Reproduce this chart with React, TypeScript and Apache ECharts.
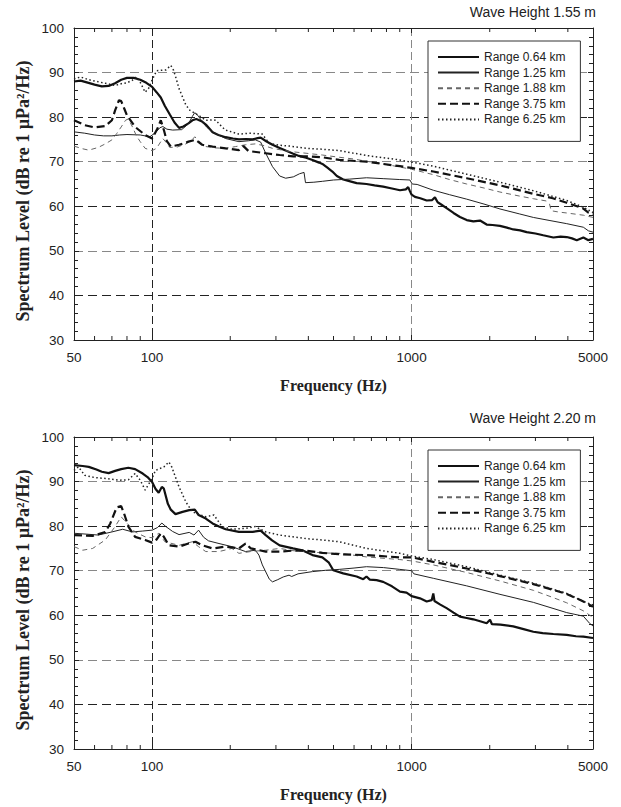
import React, { useEffect, useRef } from 'react';
import * as echarts from 'echarts';

// ---------- data ----------
const seriesNames = ['Range 0.64 km', 'Range 1.25 km', 'Range 1.88 km', 'Range 3.75 km', 'Range 6.25 km'];
const titles = ['Wave Height 1.55 m', 'Wave Height 2.20 m'];
const xAxisName = 'Frequency (Hz)';
const yAxisName = 'Spectrum Level (dB re 1 \u00b5Pa\u00b2/Hz)';
const freqMin = 50;
const freqMax = 5000;
const levelMin = 30;
const levelMax = 100;
const levelStep = 10;
const minorFreqs = [60, 70, 80, 90, 200, 300, 400, 500, 600, 700, 800, 900, 2000, 3000, 4000];

// Wave height 1.55 m
const top064 = [[50,88.0],[53,88.2],[56,87.8],[60,87.3],[64,86.9],[68,87.0],[72,87.6],[76,88.4],[80,88.8],[85,88.8],[90,88.4],[95,87.7],[100,86.8],[104,85.6],[108,84.4],[112,82.5],[117,80.6],[122,78.8],[127,77.6],[132,77.9],[138,78.6],[143,79.3],[148,79.6],[155,79.1],[162,78.2],[171,76.6],[180,76.0],[192,75.5],[205,75.2],[216,75.0],[230,75.1],[244,75.0],[255,75.3],[262,75.4],[275,74.6],[291,73.8],[310,73.1],[327,72.5],[350,71.8],[368,71.3],[392,70.9],[415,70.4],[440,69.8],[453,69.5],[475,68.6],[495,67.8],[515,66.8],[545,66.0],[580,65.6],[614,65.2],[670,65.0],[720,64.7],[777,64.4],[840,64.0],[902,63.6],[950,63.8],[970,64.3],[985,63.4],[1000,62.6],[1030,62.1],[1080,61.8],[1143,61.3],[1200,61.4],[1230,62.0],[1260,60.9],[1300,60.4],[1364,59.6],[1450,58.5],[1536,57.6],[1630,56.9],[1730,56.6],[1835,56.8],[1946,55.9],[2050,55.8],[2190,55.6],[2330,55.2],[2464,54.8],[2620,54.6],[2775,54.2],[3000,53.9],[3215,53.5],[3517,53.0],[3750,53.2],[3960,53.1],[4150,52.8],[4330,52.4],[4590,53.0],[4800,52.4],[5000,52.7]];
const top125 = [[50,76.7],[55,76.4],[60,76.0],[65,75.8],[70,75.8],[75,76.0],[80,76.1],[90,76.0],[98,75.6],[103,76.5],[107,77.6],[110,77.9],[114,77.3],[120,77.1],[130,77.2],[138,78.5],[143,80.2],[146,81.0],[150,80.4],[156,79.0],[162,77.8],[170,76.8],[180,76.0],[192,75.2],[216,74.5],[235,74.7],[250,74.9],[262,74.4],[274,71.9],[291,68.9],[310,66.8],[327,66.3],[350,66.6],[370,67.3],[385,67.6],[390,65.3],[420,65.4],[453,65.6],[500,65.9],[578,66.1],[670,66.4],[777,66.2],[900,66.0],[985,65.9],[1005,65.0],[1050,64.9],[1212,63.6],[1400,62.6],[1630,61.6],[1900,60.5],[2190,59.4],[2600,58.3],[2945,57.5],[3413,56.8],[3960,56.1],[4590,55.3],[4800,54.5],[5000,54.2]];
const top188 = [[50,73.5],[54,72.9],[57,72.6],[62,73.2],[66,74.0],[70,74.9],[73,76.3],[76,77.8],[79,79.3],[81,79.6],[84,77.8],[87,75.8],[90,74.5],[94,73.0],[100,72.5],[104,73.0],[108,74.5],[110,75.2],[113,74.4],[117,73.2],[125,73.3],[135,74.0],[142,74.8],[146,75.6],[150,74.9],[156,74.0],[161,73.4],[175,73.1],[192,73.0],[210,73.4],[229,73.8],[250,74.0],[270,73.6],[291,73.0],[339,72.3],[392,71.9],[453,71.5],[526,71.0],[600,70.6],[670,70.1],[780,69.5],[900,68.8],[1000,68.3],[1212,67.1],[1400,66.0],[1630,65.0],[1900,64.1],[2190,63.2],[2600,62.3],[2945,61.7],[3300,61.2],[3400,60.5],[3450,59.0],[3700,58.7],[3960,58.5],[4590,58.0],[5000,57.5]];
const top375 = [[50,79.3],[55,78.2],[60,77.7],[66,78.0],[70,79.3],[72,81.5],[74.5,83.8],[76,83.6],[78,82.0],[80,80.4],[86,77.8],[94,76.0],[100,75.2],[105,77.5],[108,79.3],[111,77.1],[114,74.6],[118,73.4],[127,73.8],[138,74.5],[147,74.9],[156,73.8],[171,73.4],[192,73.0],[216,72.6],[225,73.5],[235,72.4],[274,71.9],[310,71.5],[350,71.2],[392,71.2],[453,71.0],[526,70.4],[670,70.0],[900,69.0],[1000,68.6],[1212,67.8],[1630,66.3],[2190,64.7],[2945,62.8],[3500,61.8],[3960,60.8],[4590,59.5],[4800,58.6],[5000,58.3]];
const top625 = [[50,88.6],[53,89.0],[57,88.4],[60,88.1],[66,87.6],[72,87.1],[76,87.5],[80,87.7],[84,88.3],[87,89.0],[90,87.8],[94,85.6],[97,86.5],[100,88.3],[104,90.4],[108,90.5],[113,90.6],[118,91.6],[121,90.5],[124,88.5],[127,86.4],[131,84.5],[135,82.7],[140,81.5],[151,80.4],[161,79.3],[172,79.4],[176,79.3],[186,77.8],[192,77.1],[216,76.2],[240,76.4],[266,76.2],[275,75.0],[283,74.1],[310,73.7],[339,73.5],[392,73.0],[453,72.8],[526,72.5],[670,71.4],[900,70.4],[1000,69.9],[1212,69.0],[1630,67.2],[2190,65.4],[2945,63.5],[3960,61.3],[4590,59.8],[5000,58.6]];

// Wave height 2.20 m
const bot064 = [[50,93.7],[54,93.5],[57,93.3],[61,92.7],[64,92.2],[68,91.9],[72,92.4],[76,92.8],[81,93.1],[86,92.8],[92,91.8],[96,91.0],[100,89.9],[103,88.4],[106,87.5],[109,88.8],[111,88.4],[115,85.0],[118,83.7],[123,82.7],[131,83.2],[139,83.6],[146,83.7],[151,82.5],[161,81.7],[171,80.6],[181,79.9],[192,79.3],[216,78.7],[244,78.7],[262,79.0],[274,78.0],[290,76.8],[310,75.7],[349,75.0],[379,74.6],[415,73.5],[453,73.0],[480,71.8],[499,70.1],[545,69.4],[614,68.7],[651,68.1],[670,68.7],[690,68.0],[733,67.9],[777,67.5],[840,66.5],[902,65.3],[956,65.1],[1000,64.3],[1077,63.8],[1143,63.1],[1195,63.4],[1212,64.9],[1225,63.2],[1290,62.4],[1364,61.6],[1450,60.6],[1536,59.7],[1630,59.4],[1728,59.1],[1850,58.6],[1946,58.2],[2005,59.0],[2040,58.0],[2200,57.9],[2464,57.5],[2700,56.9],[2945,56.3],[3200,56.0],[3517,55.8],[3960,55.6],[4300,55.3],[4590,55.2],[5000,54.9]];
const bot125 = [[50,78.4],[56,78.2],[62,78.0],[70,78.7],[77,79.3],[84,78.7],[92,78.9],[100,79.1],[105,79.7],[109,80.7],[113,79.9],[120,78.8],[127,78.1],[139,78.6],[145,78.0],[151,79.1],[158,77.5],[165,76.7],[181,76.1],[203,75.4],[229,74.3],[250,74.6],[258,73.5],[266,71.3],[283,68.1],[291,67.5],[305,68.0],[320,68.6],[337,69.0],[345,68.7],[365,69.3],[415,69.8],[467,70.1],[526,70.3],[600,70.6],[670,70.9],[780,70.7],[900,70.3],[1000,70.0],[1020,69.3],[1212,68.3],[1630,66.6],[2190,64.7],[2945,62.9],[3960,60.6],[4590,59.8],[4850,58.2],[5000,57.6]];
const bot188 = [[50,75.4],[54,74.6],[59,75.0],[66,76.9],[72,79.9],[76,82.1],[79,81.0],[86,78.7],[94,77.6],[100,77.4],[106,78.4],[112,76.5],[127,75.7],[143,76.5],[151,75.4],[161,74.3],[181,74.3],[203,75.0],[216,73.9],[240,74.3],[274,74.6],[310,75.0],[349,74.5],[392,74.3],[453,74.0],[526,73.9],[670,73.1],[900,72.5],[1000,72.2],[1212,71.3],[1630,69.6],[2190,67.7],[2945,65.6],[3500,64.0],[3960,62.8],[4590,61.0],[5000,59.5]];
const bot375 = [[50,78.0],[59,77.8],[66,78.7],[69,80.6],[73,84.2],[76,84.5],[78,82.8],[81,79.9],[86,77.6],[94,76.9],[100,76.3],[104,77.0],[108,78.4],[111,77.6],[116,75.7],[127,75.4],[138,76.1],[147,76.5],[156,75.7],[171,75.0],[192,75.4],[216,75.0],[229,76.1],[240,75.0],[274,74.3],[310,74.3],[349,74.5],[392,74.5],[453,74.0],[526,73.7],[670,73.5],[900,73.0],[1000,73.0],[1212,72.0],[1630,70.5],[2190,68.8],[2945,67.0],[3960,64.8],[4590,63.1],[5000,61.9]];
const bot625 = [[50,92.5],[52,93.3],[55,91.4],[60,90.9],[66,90.7],[74.5,90.3],[81,90.4],[86,91.8],[90,90.3],[94,88.1],[100,90.7],[103,92.5],[111,93.3],[116,94.4],[119,93.3],[127,88.8],[135,85.4],[143,83.2],[161,82.1],[173,82.5],[186,79.9],[203,79.3],[229,79.5],[250,79.9],[274,78.7],[310,78.0],[349,77.6],[392,77.2],[453,76.9],[526,76.5],[670,75.0],[900,73.9],[1000,73.3],[1212,72.5],[1630,70.9],[2190,69.0],[2945,67.2],[3960,64.9],[4590,63.1],[5000,62.3]];

const panels = [
  [top064, top125, top188, top375, top625],
  [bot064, bot125, bot188, bot375, bot625],
];

// ---------- styles ----------
const lineStyles: any[] = [
  { width: 2.2, type: 'solid', color: '#111' },
  { width: 1, type: 'solid', color: '#222' },
  { width: 1, type: [5, 4], color: '#666' },
  { width: 2.2, type: [8, 4], color: '#111' },
  { width: 1.5, type: [1.5, 2.5], color: '#222' },
];
const gridTops = [28, 437];
const gridHeight = 312;
const sansFont = '"Liberation Sans", Arial, sans-serif';
const serifFont = '"Liberation Serif", "Times New Roman", serif';

export default function App() {
  const ref = useRef<HTMLDivElement>(null);

  useEffect(() => {
    if (!ref.current) return;
    const chart = echarts.init(ref.current, null, { renderer: 'svg' });

    const grids: any[] = [];
    const xAxes: any[] = [];
    const yAxes: any[] = [];
    const series: any[] = [];
    const legends: any[] = [];
    const titleList: any[] = [];
    const graphics: any[] = [];

    panels.forEach((panel, p) => {
      grids.push({ left: 74, right: 28, top: gridTops[p], height: gridHeight, containLabel: false });
      xAxes.push({
        type: 'log', gridIndex: p, position: 'bottom', min: freqMin, max: freqMax, logBase: 10,
        name: xAxisName, nameLocation: 'middle', nameGap: 37,
        nameTextStyle: { fontFamily: serifFont, fontWeight: 'bold', fontSize: 16, color: '#222' },
        axisLine: { show: true, onZero: false, lineStyle: { color: '#222', width: 1 } },
        axisTick: { show: true, inside: true, length: 5, lineStyle: { color: '#222' } },
        axisLabel: { show: true, margin: 10, fontFamily: sansFont, fontSize: 13.5, color: '#222',
          formatter: (v: number) => String(Math.round(v)) },
        splitLine: { show: true, lineStyle: { color: ['#222', '#222', '#888', '#222'], type: [8, 4], width: 1 } },
      });
      xAxes.push({
        type: 'log', gridIndex: p, position: 'top', min: freqMin, max: freqMax, logBase: 10,
        axisLine: { show: true, onZero: false, lineStyle: { color: '#222', width: 1 } },
        axisTick: { show: true, inside: true, length: 5, lineStyle: { color: '#222' } },
        axisLabel: { show: false },
        splitLine: { show: false },
      });
      yAxes.push({
        type: 'value', gridIndex: p, position: 'left', min: levelMin, max: levelMax, interval: levelStep,
        axisLine: { show: true, onZero: false, lineStyle: { color: '#222', width: 1 } },
        axisTick: { show: true, inside: true, length: 5, lineStyle: { color: '#222' } },
        minorTick: { show: true, splitNumber: 5, length: 4, lineStyle: { color: '#222' } },
        axisLabel: { show: true, margin: 10, fontFamily: sansFont, fontSize: 13.5, color: '#222' },
        splitLine: { show: true, lineStyle: { color: ['#888', '#222'], type: [9, 5], width: 1 } },
      });
      yAxes.push({
        type: 'value', gridIndex: p, position: 'right', min: levelMin, max: levelMax, interval: levelStep,
        axisLine: { show: true, onZero: false, lineStyle: { color: '#222', width: 1 } },
        axisTick: { show: true, inside: true, length: 5, lineStyle: { color: '#222' } },
        minorTick: { show: true, splitNumber: 5, length: 4, lineStyle: { color: '#222' } },
        axisLabel: { show: false },
        splitLine: { show: false },
      });

      panel.forEach((data, i) => {
        series.push({
          type: 'line', name: seriesNames[i], xAxisIndex: p * 2, yAxisIndex: p * 2,
          data, showSymbol: false, symbol: 'none', smooth: false, z: 3,
          lineStyle: lineStyles[i], itemStyle: { color: lineStyles[i].color },
          emphasis: { disabled: true },
        });
      });

      series.push({
        type: 'custom', name: 'minorTicks' + p, xAxisIndex: p * 2, yAxisIndex: p * 2,
        data: minorFreqs.map((f) => [f, levelMin]), silent: true, z: 4,
        renderItem: (params: any, api: any) => {
          const f = api.value(0);
          const pb = api.coord([f, levelMin]);
          const pt = api.coord([f, levelMax]);
          return {
            type: 'group',
            children: [
              { type: 'line', shape: { x1: pb[0], y1: pb[1], x2: pb[0], y2: pb[1] - 4 }, style: { stroke: '#222', lineWidth: 1 } },
              { type: 'line', shape: { x1: pt[0], y1: pt[1], x2: pt[0], y2: pt[1] + 4 }, style: { stroke: '#222', lineWidth: 1 } },
            ],
          };
        },
      });

      legends.push({
        data: seriesNames, orient: 'vertical', left: 428, top: gridTops[p] + 13,
        padding: [9, 15, 15, 9], itemWidth: 41, itemHeight: 14, itemGap: 1.6,
        backgroundColor: '#fff', borderColor: '#333', borderWidth: 1, borderRadius: 0,
        selectedMode: false, z: 6,
        itemStyle: { opacity: 0, borderWidth: 0 },
        textStyle: { fontFamily: sansFont, fontSize: 12, color: '#222', lineHeight: 14 },
      });

      titleList.push({
        text: titles[p], right: 25, top: p === 0 ? 5 : 411, padding: 0,
        textStyle: { fontFamily: sansFont, fontSize: 14, fontWeight: 'normal', color: '#222' },
      });

      graphics.push({
        type: 'text', x: 23, y: gridTops[p] + gridHeight / 2 + 7, rotation: Math.PI / 2,
        style: { text: yAxisName, fontFamily: serifFont, fontWeight: 'bold', fontSize: 18, fill: '#222',
          textAlign: 'center', textVerticalAlign: 'middle' },
      });
    });

    chart.setOption({
      animation: false,
      backgroundColor: '#fff',
      title: titleList,
      legend: legends,
      grid: grids,
      xAxis: xAxes,
      yAxis: yAxes,
      series,
      graphic: graphics,
    });

    return () => chart.dispose();
  }, []);

  return <div ref={ref} style={{ position: 'absolute', left: 0, top: 0, width: 621, height: 807 }} />;
}
